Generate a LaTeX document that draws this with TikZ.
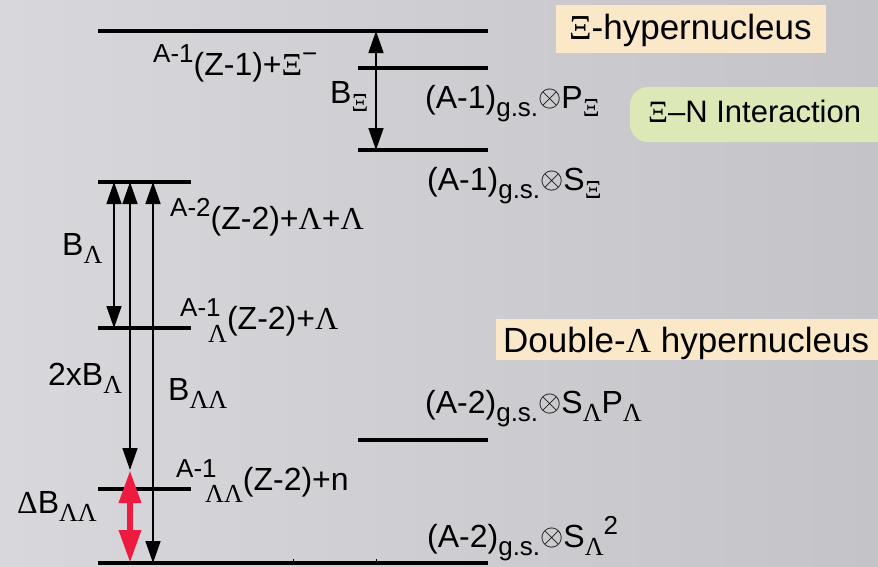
\documentclass[tikz,border=0pt]{standalone}
\usepackage{fontspec}
\setmainfont{Liberation Sans}
\newfontfamily\gk{Liberation Serif}
\usetikzlibrary{arrows.meta}
\definecolor{bgA}{HTML}{D8D8DC}
\definecolor{bgB}{HTML}{C4C4C8}
\definecolor{beige}{HTML}{FAE8C9}
\definecolor{lgreen}{HTML}{DCE9B6}
\definecolor{hred}{HTML}{EE1B40}
\newcommand\mainsz{\fontsize{32}{36}\selectfont}
\newcommand\tagsz{\fontsize{35}{40}\selectfont}
\newcommand\tagszb{\fontsize{31}{36}\selectfont}
\newcommand\scr{\fontsize{26}{26}\selectfont}
\newcommand\hsub[1]{\raisebox{-0.26em}{\scr #1}}
\newcommand\hsup[1]{\raisebox{0.4em}{\scr #1}}
\newcommand\gX{{\gk Ξ}}
\newcommand\gL{{\gk Λ}}
\newcommand\ot{\raisebox{0.04em}{\scalebox{1.2}{$\otimes$}}}
\begin{document}
\begin{tikzpicture}[x=1pt,y=-1pt,
  level/.style={line width=4pt},
  lbl/.style={anchor=base west,inner sep=0pt,font=\mainsz},
  tagtext/.style={anchor=base west,inner sep=0pt,font=\tagsz},
  arr/.style={line width=1.6pt,{Triangle[length=22pt,width=15pt]}-{Triangle[length=22pt,width=15pt]}},
  redarr/.style={line width=6.5pt,hred,{Triangle[length=33pt,width=21pt]}-{Triangle[length=33pt,width=21pt]}}]
\useasboundingbox (0,0) rectangle (878,566);
\begin{scope}
\clip (0,0) rectangle (878,566);
\shade[left color=bgA,right color=bgB] (0,0) rectangle (878,566);
% tags
\fill[beige] (556,5) rectangle (826,53);
\fill[lgreen,rounded corners=18pt] (630,87) rectangle (910,142);
\fill[beige] (496,319) rectangle (900,360);
\end{scope}
\node[tagtext] (tagxi) at (569,39) {\gX-hypernucleus};
\node[tagtext,font=\tagszb] (tagxn) at (648,122) {\gX–N Interaction};
\node[tagtext] (tagll) at (503,352) {Double-\gL\ hypernucleus};
% levels
\coordinate (L1a) at (98,31);   \coordinate (L1b) at (488,31);
\coordinate (L2a) at (358,68);  \coordinate (L2b) at (488,68);
\coordinate (L3a) at (358,150); \coordinate (L3b) at (488,150);
\coordinate (L4a) at (98,182);  \coordinate (L4b) at (191,182);
\coordinate (L5a) at (98,328);  \coordinate (L5b) at (191,328);
\coordinate (L6a) at (358,440); \coordinate (L6b) at (488,440);
\coordinate (L7a) at (98,489);  \coordinate (L7b) at (191,489);
\coordinate (L8a) at (98,563);  \coordinate (L8b) at (488,563);
\foreach \i in {1,...,8} \draw[level] (L\i a) -- (L\i b);
\draw[line width=1pt] (293,563) -- (293,559);
\draw[line width=1pt] (376,563) -- (376,559);
% arrows
\coordinate (bxT) at (376,31);  \coordinate (bxB) at (376,150);
\coordinate (blT) at (114,182); \coordinate (blB) at (114,328);
\coordinate (b2T) at (130,182); \coordinate (b2B) at (130,470);
\coordinate (bllT) at (153,182); \coordinate (bllB) at (153,563);
\coordinate (dT) at (130,470);  \coordinate (dB) at (130,563);
\draw[arr] (bxT) -- (bxB);
\draw[arr] (blT) -- (blB);
\draw[arr] (b2T) -- (b2B);
\draw[arr] (bllT) -- (bllB);
\draw[redarr] (dT) -- (dB);
% labels
\node[lbl] (n1) at (153,75) {\hsup{A-1}(Z-1)+\gX\hsup{−}};
\node[lbl] (n2) at (330,103) {B\hsub{\gX}};
\node[lbl] (n3) at (425,108) {(A-1)\hsub{g.s.}\ot P\hsub{\gX}};
\node[lbl] (n4) at (427,190) {(A-1)\hsub{g.s.}\ot S\hsub{\gX}};
\node[lbl] (n5) at (170,229) {\hsup{A-2}(Z-2)+\gL+\gL};
\node[lbl] (n6) at (62,255) {B\hsub{\gL}};
\node[lbl] (n7) at (180,329) {\rlap{\hsup{A-1}}\hspace{28pt}\raisebox{-0.42em}{\scr\gL}(Z-2)+\gL};
\node[lbl] (n8) at (48,385) {2xB\hsub{\gL}};
\node[lbl] (n9) at (168,400) {B\hsub{\gL\gL}};
\node[lbl] (n10) at (176,490) {\rlap{\hsup{A-1}}\hspace{29pt}\raisebox{-0.4em}{\scr\gL\gL}(Z-2)+n};
\node[lbl] (n11) at (17,513) {{\gk Δ}B\hsub{\gL\gL}};
\node[lbl] (n12) at (425,413) {(A-2)\hsub{g.s.}\ot S\hsub{\gL}P\hsub{\gL}};
\node[lbl] (n13) at (427,547) {(A-2)\hsub{g.s.}\ot S\hsub{\gL}\hsup{2}};
\end{tikzpicture}
\end{document}
